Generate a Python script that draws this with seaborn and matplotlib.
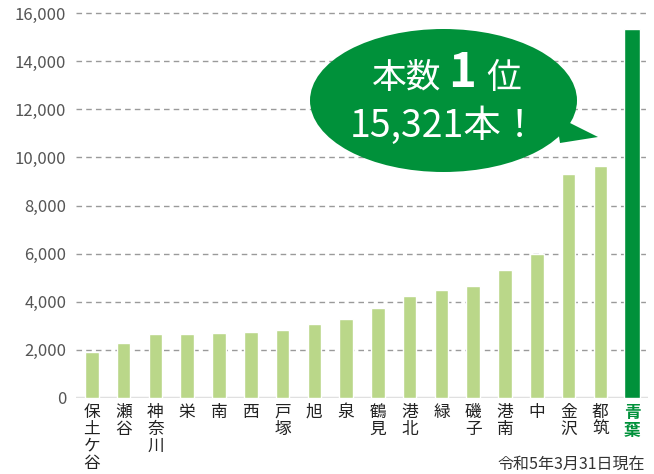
import matplotlib
matplotlib.use('Agg')
import matplotlib.pyplot as plt
import seaborn as sns
import pandas as pd
from matplotlib.patches import Ellipse, Polygon

# ---- data ----
wards = ['保土ケ谷', '瀬谷', '神奈川', '栄', '南', '西', '戸塚', '旭', '泉',
         '鶴見', '港北', '緑', '磯子', '港南', '中', '金沢', '都筑', '青葉']
counts = [1910, 2290, 2670, 2670, 2710, 2750, 2830, 3080, 3290,
          3750, 4250, 4500, 4670, 5330, 6000, 9290, 9630, 15321]
yticks = [0, 2000, 4000, 6000, 8000, 10000, 12000, 14000, 16000]
callout_line1 = ['本数', '1', '位']
callout_line2 = '15,321本！'
note = '令和5年3月31日現在'

LIGHT = '#bad789'
DARK = '#00913a'

sns.set_theme(style='white')
plt.rcParams['font.family'] = ['Noto Sans CJK JP', 'DejaVu Sans']

W, H = 654, 474
fig = plt.figure(figsize=(W / 100, H / 100), dpi=100)
ax = fig.add_axes([76 / W, 1 - 398 / H, 572 / W, (398 - 10.6) / H])

df = pd.DataFrame({'ward': wards, 'count': counts})
colors = [LIGHT] * (len(wards) - 1) + [DARK]
sns.barplot(data=df, x='ward', y='count', hue='ward', palette=colors,
            legend=False, width=0.43, saturation=1, ax=ax, zorder=2)

# widen highlighted bar
last = ax.patches[-1]
cx = last.get_x() + last.get_width() / 2
last.set_width(0.52)
last.set_x(cx - 0.26)

ax.set_xlim(-0.5, len(wards) - 0.5)
ax.set_ylim(0, 16100)
for y in yticks[1:]:
    ax.axhline(y, color='#9a9a9a', lw=1.0, ls=(0, (4, 3)), zorder=0)
ax.axhline(0, color='#e0e0e0', lw=2.5, zorder=1)

for s in ax.spines.values():
    s.set_visible(False)
ax.set_xlabel('')
ax.set_ylabel('')
ax.set_yticks(yticks)
ax.set_yticklabels([f'{v:,}' for v in yticks], fontsize=12, color='#555555')
ax.set_xticks(range(len(wards)))
ax.set_xticklabels(['\n'.join(w) for w in wards], fontsize=12,
                   color='#222222', linespacing=1.0, va='top')
ax.tick_params(axis='both', length=0)
ax.tick_params(axis='y', pad=7)
ax.tick_params(axis='x', pad=4)
lab = ax.get_xticklabels()[-1]
lab.set_color(DARK)
lab.set_fontweight('bold')

# ---- callout overlay ----
ov = fig.add_axes([0, 0, 1, 1])
ov.set_xlim(0, W)
ov.set_ylim(H, 0)
ov.axis('off')
ov.add_patch(Ellipse((443.5, 100.5), 267, 143, color=DARK, lw=0))
ov.add_patch(Polygon([(556, 116), (598, 137), (560, 143)], closed=True,
                     color=DARK, lw=0))
ov.text(407, 78, callout_line1[0], color='white', fontsize=25,
        ha='center', va='center')
ov.text(462, 73, callout_line1[1], color='white', fontsize=34,
        fontweight='bold', ha='center', va='center')
ov.text(504, 78, callout_line1[2], color='white', fontsize=25,
        ha='center', va='center')
ov.text(444, 126, callout_line2, color='white', fontsize=27,
        ha='center', va='center')

ov.text(645, 464, note, color='#333333', fontsize=11.5, ha='right',
        va='center')

fig.savefig('out.png', dpi=100)
